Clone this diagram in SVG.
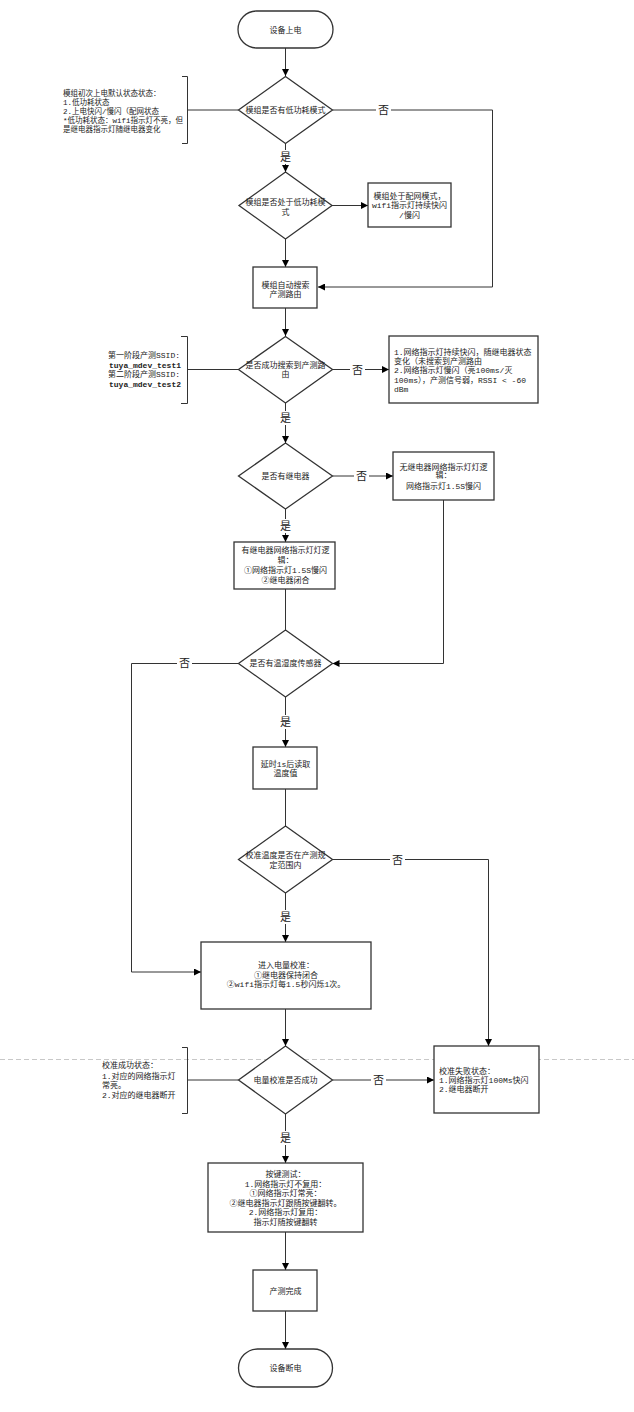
<svg xmlns="http://www.w3.org/2000/svg" width="634" height="1412" viewBox="0 0 634 1412">
<style>
.shape{fill:#fff;stroke:#333;stroke-width:1.3}
.conn{stroke:#333;stroke-width:1;fill:none}
.brk{stroke:#333;stroke-width:1;fill:none}
text{font-family:"Liberation Mono","Noto Sans CJK SC",monospace;font-size:8px;fill:#222}
.c{text-anchor:middle}
.lbl{font-family:"Noto Sans CJK SC",sans-serif;font-size:11px;text-anchor:middle;fill:#222}
.bg{fill:#fff;stroke:none}
.b{font-weight:bold}
.sm{font-size:7.5px}
</style>
<defs>
<marker id="arr" viewBox="0 0 10 10" refX="10" refY="5" markerWidth="7" markerHeight="7" orient="auto" markerUnits="userSpaceOnUse"><path d="M0,0 L10,5 L0,10 z" fill="#000"/></marker>
</defs>
<rect width="634" height="1412" fill="#fff"/>
<line x1="0" y1="1059.5" x2="634" y2="1059.5" stroke="#c8c8c8" stroke-width="1" stroke-dasharray="5 3"/>

<g id="connectors">
<path class="conn" d="M285.5,48 V76" marker-end="url(#arr)"/>
<path class="conn" d="M285.5,143.5 V172" marker-end="url(#arr)"/>
<path class="conn" d="M332.5,110 H492.5 V287 H318" marker-end="url(#arr)"/>
<path class="conn" d="M332,205.5 H368" marker-end="url(#arr)"/>
<path class="conn" d="M285.5,239 V267" marker-end="url(#arr)"/>
<path class="conn" d="M285.5,308 V336" marker-end="url(#arr)"/>
<path class="conn" d="M332.5,369.5 H389" marker-end="url(#arr)"/>
<path class="conn" d="M285.5,403 V443" marker-end="url(#arr)"/>
<path class="conn" d="M332.5,476 H393" marker-end="url(#arr)"/>
<path class="conn" d="M285.5,509 V542" marker-end="url(#arr)"/>
<path class="conn" d="M285.5,589 V630"/>
<path class="conn" d="M443.5,500 V663.5 H332.5" marker-end="url(#arr)"/>
<path class="conn" d="M238.5,663.5 H131.5 V972 H201" marker-end="url(#arr)"/>
<path class="conn" d="M285.5,697 V747" marker-end="url(#arr)"/>
<path class="conn" d="M285.5,789 V826"/>
<path class="conn" d="M332.5,859.5 H488.5 V1046" marker-end="url(#arr)"/>
<path class="conn" d="M285.5,893 V942" marker-end="url(#arr)"/>
<path class="conn" d="M285.5,1009 V1046" marker-end="url(#arr)"/>
<path class="conn" d="M332.5,1080 H434" marker-end="url(#arr)"/>
<path class="conn" d="M285.5,1114 V1163" marker-end="url(#arr)"/>
<path class="conn" d="M285.5,1232 V1270" marker-end="url(#arr)"/>
<path class="conn" d="M285.5,1311 V1349" marker-end="url(#arr)"/>
<path class="brk" d="M182,76.5 H187.5 V143.5 H182 M187.5,110 H238.5"/>
<path class="brk" d="M181,336.5 H187.5 V403.5 H181 M187.5,369.5 H238.5"/>
<path class="brk" d="M182,1047.5 H187.5 V1113.5 H182 M187.5,1080 H238.5"/>
<rect class="bg" x="278" y="150" width="15" height="14"/><text class="lbl" x="285.5" y="161">是</text>
<rect class="bg" x="376" y="103" width="15" height="14"/><text class="lbl" x="383.5" y="114">否</text>
<rect class="bg" x="350" y="363" width="15" height="14"/><text class="lbl" x="357.5" y="374">否</text>
<rect class="bg" x="278" y="411" width="15" height="14"/><text class="lbl" x="285.5" y="422">是</text>
<rect class="bg" x="354" y="469" width="15" height="14"/><text class="lbl" x="361.5" y="480">否</text>
<rect class="bg" x="278" y="519" width="15" height="14"/><text class="lbl" x="285.5" y="530">是</text>
<rect class="bg" x="177" y="656" width="15" height="14"/><text class="lbl" x="184.5" y="667">否</text>
<rect class="bg" x="278" y="715" width="15" height="14"/><text class="lbl" x="285.5" y="726">是</text>
<rect class="bg" x="390" y="853" width="15" height="14"/><text class="lbl" x="397.5" y="864">否</text>
<rect class="bg" x="278" y="910" width="15" height="14"/><text class="lbl" x="285.5" y="921">是</text>
<rect class="bg" x="371" y="1073" width="15" height="14"/><text class="lbl" x="378.5" y="1084">否</text>
<rect class="bg" x="278" y="1131" width="15" height="14"/><text class="lbl" x="285.5" y="1142">是</text>
</g>

<g id="n-start"><rect class="shape" x="238" y="11" width="95" height="37" rx="18.5"/><text class="c" x="285.5" y="33">设备上电</text></g>

<g id="note1">
<text class="sm" x="63" y="96">模组初次上电默认状态状态：</text>
<text class="sm" x="63" y="105">1.低功耗状态</text>
<text class="sm" x="63" y="114">2.上电快闪/慢闪（配网状态</text>
<text class="sm" x="63" y="123">*低功耗状态：wifi指示灯不亮，但</text>
<text class="sm" x="63" y="132">是继电器指示灯随继电器变化</text>
</g>

<g id="n-d1"><path class="shape" d="M285.5,76.5 L332.5,110 L285.5,143.5 L238.5,110 Z"/><text class="c" x="285.5" y="113">模组是否有低功耗模式</text></g>

<g id="n-d2"><path class="shape" d="M285.5,172 L332,205.5 L285.5,239 L239,205.5 Z"/><text class="c" x="285.5" y="205">模组是否处于低功耗模</text><text class="c" x="285.5" y="215">式</text></g>

<g id="n-pair"><rect class="shape" x="368" y="183" width="83" height="44"/><text class="c" x="409.5" y="199">模组处于配网模式，</text><text class="c" x="409.5" y="208">wifi指示灯持续快闪</text><text class="c" x="409.5" y="218">/慢闪</text></g>

<g id="n-search"><rect class="shape" x="253" y="267" width="64" height="41"/><text class="c" x="285.5" y="288">模组自动搜索</text><text class="c" x="285.5" y="297">产测路由</text></g>

<g id="note2">
<text x="108" y="358">第一阶段产测SSID:</text>
<text class="b" x="109" y="368">tuya_mdev_test1</text>
<text x="108" y="377">第二阶段产测SSID:</text>
<text class="b" x="109" y="387">tuya_mdev_test2</text>
</g>

<g id="n-d3"><path class="shape" d="M285.5,336.5 L332.5,369.5 L285.5,403 L238.5,369.5 Z"/><text class="c" x="285.5" y="368">是否成功搜索到产测路</text><text class="c" x="285.5" y="377">由</text></g>

<g id="n-fail-search"><rect class="shape" x="389" y="336" width="149" height="67"/>
<text x="394" y="355">1.网络指示灯持续快闪，随继电器状态</text>
<text x="394" y="364">变化（未搜索到产测路由</text>
<text x="394" y="373">2.网络指示灯慢闪（亮100ms/灭</text>
<text x="394" y="383">100ms），产测信号弱，RSSI &lt; -60</text>
<text x="394" y="392">dBm</text>
</g>

<g id="n-d4"><path class="shape" d="M285.5,443 L332.5,476 L285.5,509 L238.5,476 Z"/><text class="c" x="285.5" y="479">是否有继电器</text></g>

<g id="n-norelay"><rect class="shape" x="393" y="452" width="101" height="48"/><text class="c" x="443.5" y="470">无继电器网络指示灯灯逻</text><text class="c" x="443.5" y="478">辑：</text><text class="c" x="443.5" y="489">网络指示灯1.5S慢闪</text></g>

<g id="n-relay"><rect class="shape" x="234" y="542" width="101" height="47"/><text class="c" x="285.5" y="553">有继电器网络指示灯灯逻</text><text class="c" x="285.5" y="563">辑：</text><text class="c" x="285.5" y="573">①网络指示灯1.5S慢闪</text><text class="c" x="285.5" y="583">②继电器闭合</text></g>

<g id="n-d5"><path class="shape" d="M285.5,630 L332.5,663.5 L285.5,697 L238.5,663.5 Z"/><text class="c" x="285.5" y="666">是否有温湿度传感器</text></g>

<g id="n-delay"><rect class="shape" x="253" y="747" width="64" height="42"/><text class="c" x="285.5" y="767">延时1s后读取</text><text class="c" x="285.5" y="776">温度值</text></g>

<g id="n-d6"><path class="shape" d="M285.5,826 L332.5,859.5 L285.5,893 L238.5,859.5 Z"/><text class="c" x="285.5" y="858">校准温度是否在产测规</text><text class="c" x="285.5" y="868">定范围内</text></g>

<g id="n-calib"><rect class="shape" x="201" y="942" width="170" height="67"/><text class="c" x="286" y="968">进入电量校准：</text><text class="c" x="286" y="978">①继电器保持闭合</text><text class="c" x="286" y="987">②wifi指示灯每1.5秒闪烁1次。</text></g>

<g id="note3">
<text x="102" y="1068">校准成功状态：</text>
<text x="102" y="1079">1.对应的网络指示灯</text>
<text x="102" y="1088">常亮。</text>
<text x="102" y="1098">2.对应的继电器断开</text>
</g>

<g id="n-d8"><path class="shape" d="M285.5,1046 L332.5,1080 L285.5,1114 L238.5,1080 Z"/><text class="c" x="285.5" y="1083">电量校准是否成功</text></g>

<g id="n-calfail"><rect class="shape" x="434" y="1046" width="105" height="67"/><text x="439" y="1074">校准失败状态：</text><text x="439" y="1083">1.网络指示灯100Ms快闪</text><text x="439" y="1092">2.继电器断开</text></g>

<g id="n-key"><rect class="shape" x="208" y="1163" width="155" height="69"/>
<text class="c" x="285.5" y="1177">按键测试：</text>
<text class="c" x="285.5" y="1187">1.网络指示灯不复用：</text>
<text class="c" x="285.5" y="1196">①网络指示灯常亮：</text>
<text class="c" x="285.5" y="1206">②继电器指示灯跟随按键翻转。</text>
<text class="c" x="285.5" y="1215">2.网络指示灯复用：</text>
<text class="c" x="285.5" y="1225">指示灯随按键翻转</text>
</g>

<g id="n-done"><rect class="shape" x="253" y="1270" width="64" height="41"/><text class="c" x="285.5" y="1294">产测完成</text></g>

<g id="n-end"><rect class="shape" x="238.5" y="1349" width="94" height="38" rx="19"/><text class="c" x="285.5" y="1371">设备断电</text></g>
</svg>
